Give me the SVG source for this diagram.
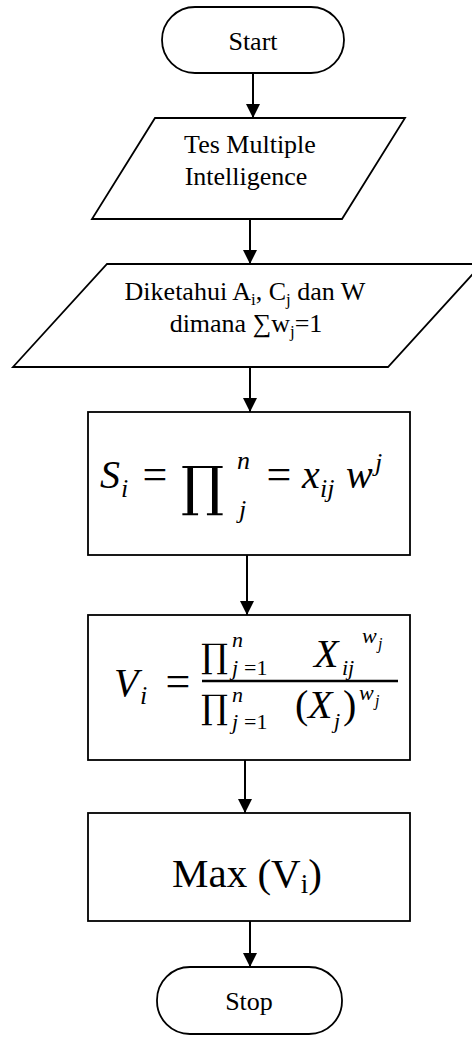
<svg xmlns="http://www.w3.org/2000/svg" width="472" height="1037" viewBox="0 0 472 1037">
<defs>
<style>
.shape{fill:#fff;stroke:#000;stroke-width:1.8}
.t{font-family:"Liberation Serif","Times New Roman",serif;fill:#000}
.m{font-family:"Liberation Serif","Times New Roman",serif;font-style:italic;fill:#000}
.op{font-family:"DejaVu Serif",serif;fill:#000}
.conn{stroke:#000;stroke-width:2;fill:none;marker-end:url(#ah)}
</style>
<marker id="ah" viewBox="0 0 14 14" refX="14" refY="7" markerWidth="14" markerHeight="14" markerUnits="userSpaceOnUse" orient="auto">
<path d="M0,0 L14,7 L0,14 Z" fill="#000"/>
</marker>
</defs>
<rect width="472" height="1037" fill="#fff"/>
<g id="connectors">
<line class="conn" x1="253" y1="73" x2="253" y2="118"/>
<line class="conn" x1="250" y1="219" x2="250" y2="264"/>
<line class="conn" x1="250" y1="367" x2="250" y2="412"/>
<line class="conn" x1="247" y1="555" x2="247" y2="615"/>
<line class="conn" x1="245" y1="760" x2="245" y2="813"/>
<line class="conn" x1="250" y1="921" x2="250" y2="967"/>
</g>
<g id="start">
<rect class="shape" x="162" y="7" width="182" height="66" rx="33" ry="33"/>
<text class="t" x="253" y="50" font-size="26" text-anchor="middle">Start</text>
</g>
<g id="input1">
<polygon class="shape" points="155,118 405,118 342,219 92,219"/>
<text class="t" x="250" y="153" font-size="26" text-anchor="middle">Tes Multiple</text>
<text class="t" x="246" y="185" font-size="26" text-anchor="middle">Intelligence</text>
</g>
<g id="input2">
<polygon class="shape" points="107,264 482,264 388,367 13,367"/>
<text class="t" x="245" y="300" font-size="26" text-anchor="middle">Diketahui A<tspan font-size="17" dy="5">i</tspan><tspan dy="-5">, C</tspan><tspan font-size="17" dy="5">j</tspan><tspan dy="-5"> dan W</tspan></text>
<text class="t" x="246" y="332" font-size="26" text-anchor="middle">dimana ∑w<tspan font-size="17" dy="5">j</tspan><tspan dy="-5">=1</tspan></text>
</g>
<g id="process1">
<rect class="shape" x="88" y="412" width="322" height="143"/>
<text class="m" x="100" y="488" font-size="40">S</text>
<text class="m" x="121" y="497" font-size="26">i</text>
<text class="t" x="155" y="489" font-size="44" text-anchor="middle">=</text>
<text class="op" x="181" y="505" font-size="54">∏</text>
<text class="m" x="237" y="469" font-size="26">n</text>
<text class="m" x="239" y="518" font-size="26">j</text>
<text class="t" x="279" y="489" font-size="44" text-anchor="middle">=</text>
<text class="m" x="302" y="488" font-size="40">x</text>
<text class="m" x="320" y="497" font-size="26">ij</text>
<text class="m" x="346" y="488" font-size="40">w</text>
<text class="m" x="375" y="471" font-size="26">j</text>
</g>
<g id="process2">
<rect class="shape" x="88" y="615" width="322" height="145"/>
<text class="m" x="114" y="696" font-size="40">V</text>
<text class="m" x="140" y="704" font-size="26">i</text>
<text class="t" x="178" y="696" font-size="44" text-anchor="middle">=</text>
<line x1="202" y1="681" x2="398" y2="681" stroke="#000" stroke-width="2.5"/>
<text class="op" x="201" y="668" font-size="34">∏</text>
<text class="m" x="232" y="647" font-size="22">n</text>
<text class="m" x="232" y="675" font-size="22">j</text>
<text class="t" x="244" y="675" font-size="22">=1</text>
<text class="m" x="314" y="667" font-size="40">X</text>
<text class="m" x="342" y="675" font-size="22">ij</text>
<text class="m" x="362" y="643" font-size="22">w</text>
<text class="m" x="378" y="649" font-size="16">j</text>
<text class="op" x="201" y="719" font-size="34">∏</text>
<text class="m" x="232" y="702" font-size="22">n</text>
<text class="m" x="232" y="729" font-size="22">j</text>
<text class="t" x="244" y="729" font-size="22">=1</text>
<text class="t" x="295" y="718" font-size="40">(</text>
<text class="m" x="308" y="718" font-size="40">X</text>
<text class="m" x="334" y="728" font-size="22">j</text>
<text class="t" x="343" y="718" font-size="40">)</text>
<text class="m" x="359" y="700" font-size="22">w</text>
<text class="m" x="375" y="706" font-size="16">j</text>
</g>
<g id="process3">
<rect class="shape" x="88" y="813" width="322" height="108"/>
<text class="t" x="172" y="887" font-size="41">Max (V<tspan font-size="27" dy="6">i</tspan><tspan dy="-6">)</tspan></text>
</g>
<g id="stop">
<rect class="shape" x="157" y="967" width="185" height="67" rx="33" ry="33"/>
<text class="t" x="249" y="1010" font-size="26" text-anchor="middle">Stop</text>
</g>
</svg>
